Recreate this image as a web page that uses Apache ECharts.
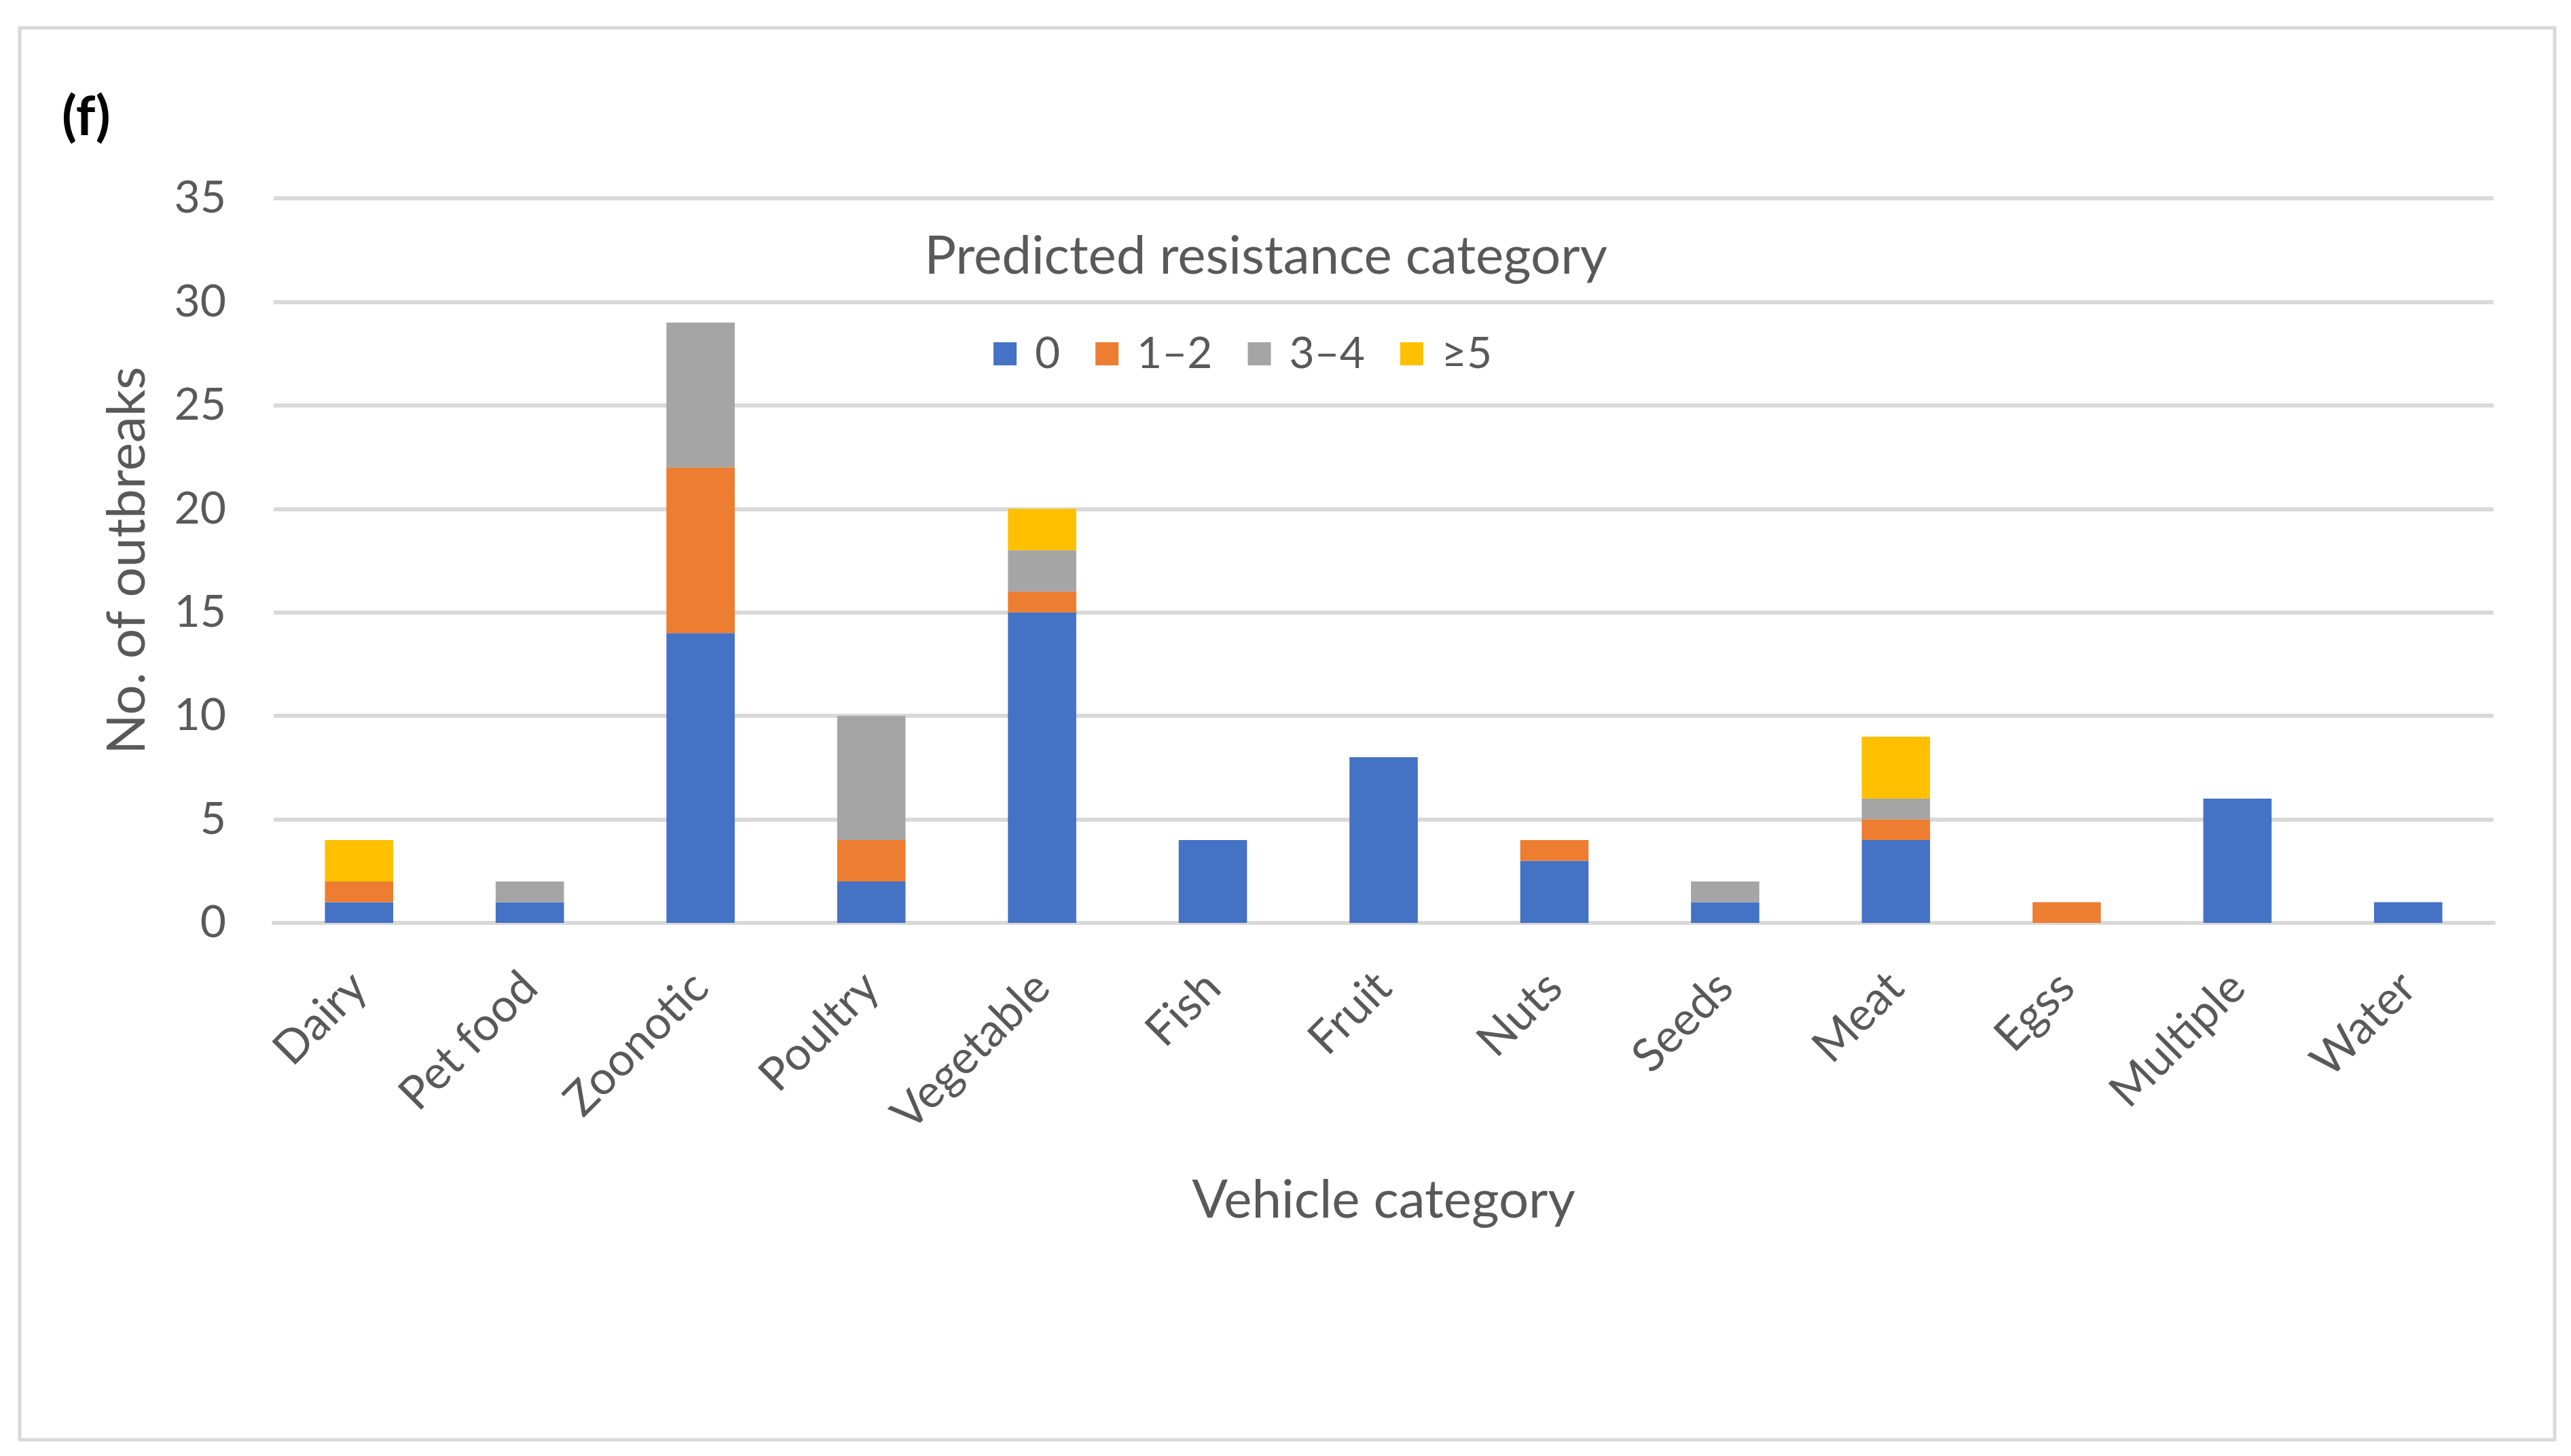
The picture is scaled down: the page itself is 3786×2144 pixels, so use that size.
<!DOCTYPE html>
<html>
<head>
<meta charset="utf-8">
<script src="https://cdn.jsdelivr.net/npm/echarts@6/dist/echarts.min.js"></script>
<style>
html,body{margin:0;padding:0;background:#fff;}
#c{width:3786px;height:2144px;}
</style>
</head>
<body>
<div id="c"></div>
<script>
const categories = ['Dairy','Pet food','Zoonotic','Poultry','Vegetable','Fish','Fruit','Nuts','Seeds','Meat','Egss','Multiple','Water'];
const seriesNames = ['0','1\u20132','3\u20134','\u22655'];
const res0   = [1, 1, 14, 2, 15, 4, 8, 3, 1, 4, 0, 6, 1];
const res12  = [1, 0, 8, 2, 1, 0, 0, 1, 0, 1, 1, 0, 0];
const res34  = [0, 1, 7, 6, 2, 0, 0, 0, 1, 1, 0, 0, 0];
const res5   = [2, 0, 0, 0, 2, 0, 0, 0, 0, 3, 0, 0, 0];
const colors = ['#4472C4','#ED7D31','#A5A5A5','#FFC000'];
const yTicks = [0,5,10,15,20,25,30,35];

const FONT = 'Lato, "Open Sans", sans-serif';
const TXT = '#595959';
const chart = echarts.init(document.getElementById('c'), null, {renderer:'canvas'});
const allSeries = [res0, res12, res34, res5];
chart.setOption({
  backgroundColor:'#fff',
  animation:false,
  color: colors,
  graphic:[{
    type:'rect', shape:{x:29,y:41,width:3733,height:2079},
    style:{fill:'none', stroke:'#D9D9D9', lineWidth:5}, silent:true
  }],
  title:[
    {text:'(f)', left:86, top:128, textStyle:{fontFamily:FONT, fontWeight:'bold', fontSize:80, color:'#000'}},
    {text:'Predicted resistance category', left:1859, top:334, textAlign:'center',
     textStyle:{fontFamily:FONT, fontWeight:'normal', fontSize:78, color:TXT}}
  ],
  legend:{
    data:seriesNames, left:1458, top:484, itemWidth:34, itemHeight:34, itemGap:52,
    icon:'rect',
    textStyle:{fontFamily:FONT, fontSize:64, color:TXT, padding:[0,0,0,22]}
  },
  grid:{left:403, right:114, top:292, bottom:785, containLabel:false},
  xAxis:{
    type:'category', data:categories,
    name:'Vehicle category', nameLocation:'middle', nameGap:370,
    nameTextStyle:{fontFamily:FONT, fontSize:78, color:TXT},
    axisLine:{show:true, lineStyle:{color:'#D9D9D9', width:6}},
    axisTick:{show:false},
    axisLabel:{rotate:45, margin:84, fontFamily:FONT, fontSize:68, color:TXT, interval:0}
  },
  yAxis:{
    type:'value', min:0, max:35, interval:5,
    name:'No. of outbreaks', nameLocation:'middle', nameGap:176, nameRotate:90,
    nameTextStyle:{fontFamily:FONT, fontSize:78, color:TXT},
    axisLine:{show:false}, axisTick:{show:false},
    axisLabel:{margin:70, fontFamily:FONT, fontSize:66, color:TXT,
      formatter:function(v){return yTicks.indexOf(v)>=0?String(v):'';}},
    splitLine:{show:true, lineStyle:{color:'#D9D9D9', width:6}}
  },
  series: allSeries.map((d,i)=>({
    name:seriesNames[i], type:'bar', stack:'total', data:d, barWidth:'40%',
    itemStyle:{color:colors[i]}
  }))
});
</script>
</body>
</html>
